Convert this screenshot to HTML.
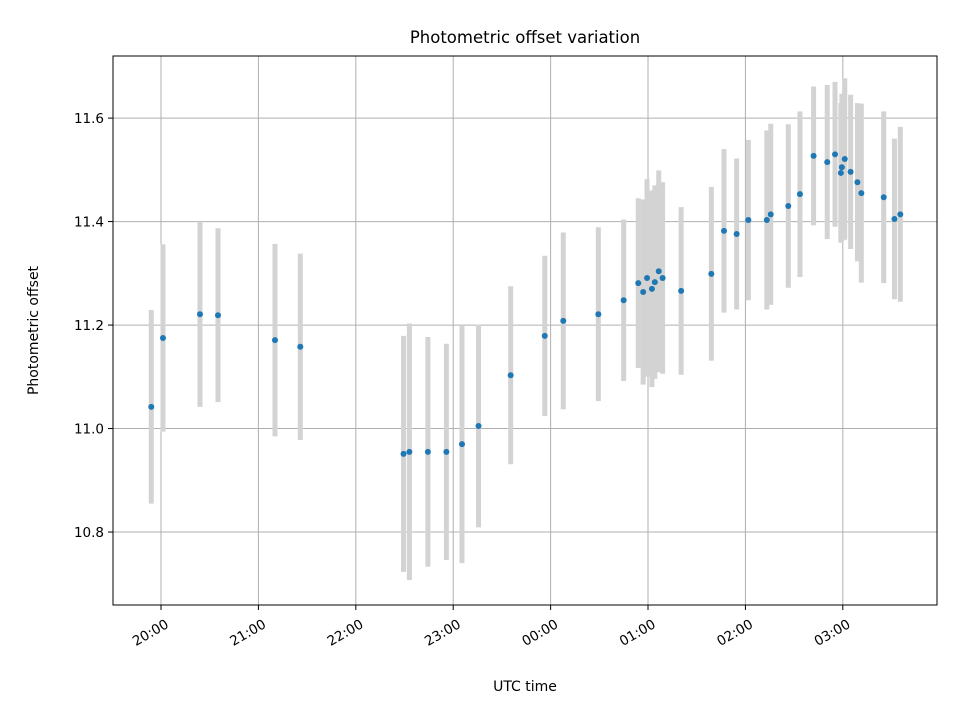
<!DOCTYPE html>
<html><head><meta charset="utf-8"><style>
body{margin:0;background:#fff}
svg text{font-family:"DejaVu Sans","Liberation Sans",sans-serif;fill:#000}
</style></head><body>
<svg id="chart" width="960" height="720"></svg>
<script>
const hours=[-0.10,0.02,0.40,0.585,1.17,1.43,2.49,2.55,2.74,2.93,3.09,3.26,3.59,3.94,4.13,4.49,4.75,4.90,4.95,4.99,5.04,5.07,5.11,5.15,5.34,5.65,5.78,5.91,6.03,6.22,6.26,6.44,6.56,6.70,6.84,6.92,7.02,6.99,6.98,7.08,7.15,7.19,7.42,7.53,7.59];
const offsets=[11.042,11.175,11.221,11.219,11.171,11.158,10.951,10.955,10.955,10.955,10.970,11.005,11.103,11.179,11.208,11.221,11.248,11.281,11.264,11.291,11.270,11.283,11.304,11.291,11.266,11.299,11.382,11.376,11.403,11.403,11.414,11.430,11.453,11.527,11.515,11.530,11.521,11.505,11.494,11.496,11.476,11.455,11.447,11.405,11.414];
const errors=[0.187,0.181,0.179,0.168,0.186,0.180,0.228,0.248,0.222,0.209,0.230,0.196,0.172,0.155,0.171,0.168,0.156,0.164,0.179,0.191,0.190,0.187,0.195,0.185,0.162,0.168,0.158,0.146,0.155,0.173,0.175,0.158,0.160,0.134,0.149,0.140,0.156,0.142,0.135,0.149,0.153,0.173,0.166,0.155,0.169];
const xTickHours=[0,1,2,3,4,5,6,7];
const xTickLabels=["20:00","21:00","22:00","23:00","00:00","01:00","02:00","03:00"];
const yTicks=[10.8,11.0,11.2,11.4,11.6];
const L=113,R=937,T=56,B=605;
const xMin=-0.493,xMax=7.967,yMin=10.659,yMax=11.720;
const X=h=>L+(h-xMin)/(xMax-xMin)*(R-L);
const Y=v=>B-(v-yMin)/(yMax-yMin)*(B-T);
const svg=document.getElementById('chart');
const NS='http://www.w3.org/2000/svg';
function mk(tag,attrs,parent){const e=document.createElementNS(NS,tag);for(const k in attrs)e.setAttribute(k,attrs[k]);(parent||svg).appendChild(e);return e;}
mk('rect',{x:0,y:0,width:960,height:720,fill:'#fff'});
const grid=mk('g',{});


xTickHours.forEach((h,i)=>{
 const x=X(h);
 const gl=mk('line',{x1:x,x2:x,y1:T,y2:B,stroke:'#b0b0b0','stroke-width':1},grid);
 
 
 mk('line',{x1:x,x2:x,y1:B,y2:B+5,stroke:'#000'});
 const ax=x+4, ay=B+14;
 const t=mk('text',{x:ax,y:ay+9,'font-size':13.5,'text-anchor':'end',transform:`rotate(-30 ${ax} ${ay})`});
 
 
 t.textContent=xTickLabels[i];
});
yTicks.forEach(v=>{
 const y=Y(v);
 const gl=mk('line',{x1:L,x2:R,y1:y,y2:y,stroke:'#b0b0b0','stroke-width':1},grid);
 
 
 mk('line',{x1:L-5,x2:L,y1:y,y2:y,stroke:'#000'});
 const t=mk('text',{x:L-9,y:y+5,'font-size':13.5,'text-anchor':'end'});
 
 
 t.textContent=v.toFixed(1);
});
hours.forEach((h,i)=>{
 const b=mk('line',{x1:X(h),x2:X(h),y1:Y(offsets[i]+errors[i]),y2:Y(offsets[i]-errors[i]),stroke:'#d3d3d3','stroke-width':5});
 
 
});
hours.forEach((h,i)=>{
 const c=mk('circle',{cx:X(h),cy:Y(offsets[i]),r:3,fill:'#1f77b4'});
 
 
});
const frame=mk('rect',{x:L,y:T,width:R-L,height:B-T,fill:'none',stroke:'#000','stroke-width':1});


const title=mk('text',{x:(L+R)/2,y:43,'font-size':16.5,'text-anchor':'middle'});


title.textContent='Photometric offset variation';
const xl=mk('text',{x:(L+R)/2,y:691,'font-size':14,'text-anchor':'middle'});


xl.textContent='UTC time';
const yl=mk('text',{x:38,y:(T+B)/2,'font-size':14,'text-anchor':'middle',transform:`rotate(-90 38 ${(T+B)/2})`});


yl.textContent='Photometric offset';
</script>
</body></html>
